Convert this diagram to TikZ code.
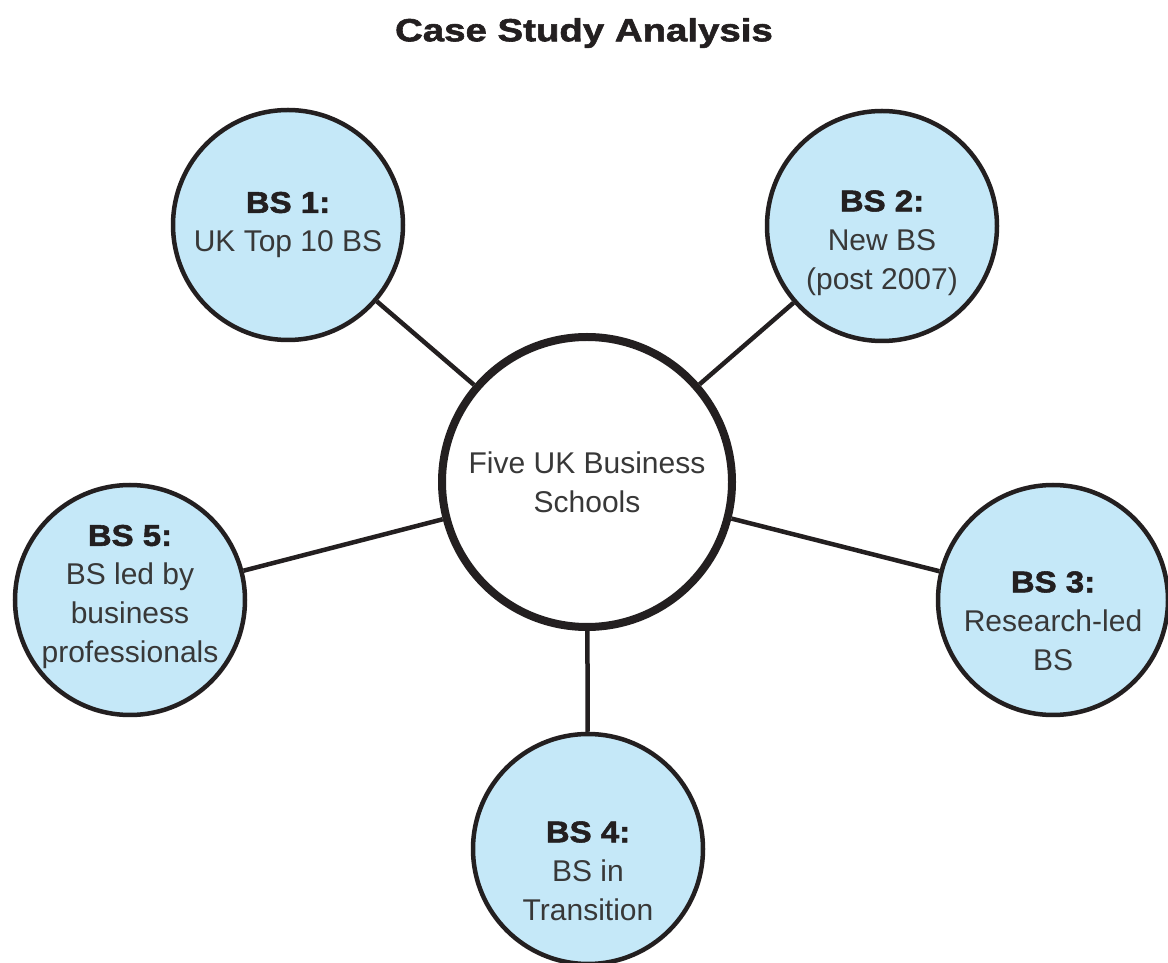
\documentclass[tikz,border=0pt]{standalone}
\usepackage{fontspec}
\setmainfont{Liberation Sans}
\newfontfamily\heavyfont{Liberation Sans}[BoldFeatures={FakeBold=1.8,FakeStretch=1.1}]
\newfontfamily\titlefont{Liberation Sans}[BoldFeatures={FakeBold=1.8,FakeStretch=1.2}]
\definecolor{schoolblue}{RGB}{197,232,248}
\definecolor{ink}{RGB}{35,31,32}
\newcommand{\bsname}[1]{{\heavyfont\bfseries\color{ink}#1}}

\begin{document}
\begin{tikzpicture}[x=1pt,y=1pt,
    school/.style={circle,draw=ink,line width=4.5pt,fill=schoolblue,minimum size=230pt,inner sep=0pt},
    hubcircle/.style={circle,draw=ink,line width=8pt,fill=white,minimum size=290pt,inner sep=0pt},
    schooltext/.style={align=center,text=black!78,font=\fontsize{30}{39}\selectfont},
    link/.style={draw=ink,line width=4.5pt}]
  \useasboundingbox (0,0) rectangle (1168,962);
  \node[font=\titlefont\bfseries\fontsize{32}{38}\selectfont,text=ink] (title) at (584,929) {Case Study Analysis};

  % centre and the five schools
  \node[hubcircle,schooltext] (hub) at (587,480) {Five UK Business\\Schools};
  \node[school] (bs1) at (288,737) {};
  \node[school] (bs2) at (882,736) {};
  \node[school] (bs3) at (1053,362) {};
  \node[school] (bs4) at (588,113) {};
  \node[school] (bs5) at (130,362) {};

  \node[schooltext] (bs1text) at (bs1) {\bsname{BS 1:}\\UK Top 10 BS};
  \node[schooltext] (bs2text) at ([yshift=-17pt]bs2.center) {\bsname{BS 2:}\\New BS\\(post 2007)};
  \node[schooltext] (bs3text) at ([yshift=-21pt]bs3.center) {\bsname{BS 3:}\\Research-led\\BS};
  \node[schooltext] (bs4text) at ([yshift=-22pt]bs4.center) {\bsname{BS 4:}\\BS in\\Transition};
  \node[schooltext] (bs5text) at ([yshift=3pt]bs5.center) {\bsname{BS 5:}\\BS led by\\business\\professionals};

  \foreach \s in {bs1,bs2,bs3,bs4,bs5}
    \draw[link] (hub) -- (\s);
\end{tikzpicture}
\end{document}
